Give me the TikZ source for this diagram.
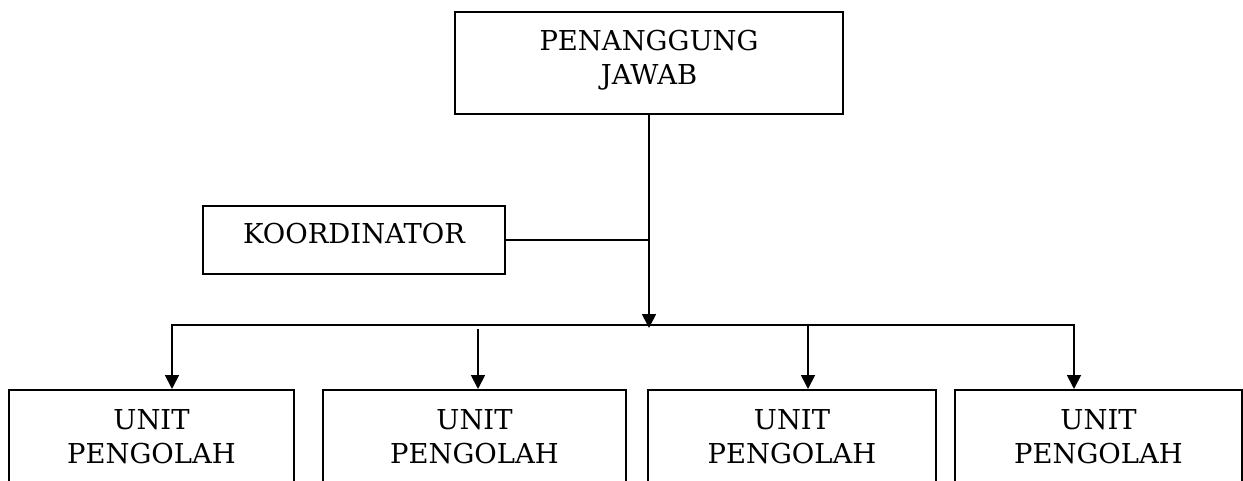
\documentclass[tikz,border=0pt]{standalone}
\usepackage{fontspec}
\setmainfont{DejaVu Serif}
\usetikzlibrary{arrows.meta}
\begin{document}
\begin{tikzpicture}[x=1pt,y=-1pt,
  box/.style={draw, line width=1.8pt, align=center, anchor=north, inner sep=0pt,
    font=\fontsize{27.4pt}{34pt}\selectfont},
  conn/.style={line width=1.8pt},
  arr/.style={conn, -{Triangle[width=14pt,length=14pt]}}]
\useasboundingbox (0,0) rectangle (1243,481);
\clip (0,0) rectangle (1243,481);
\node[box, minimum width=388pt, text height=73pt, text depth=29pt] (pj) at (649,11) {PENANGGUNG\\JAWAB};
\node[box, minimum width=302pt, text height=38pt, text depth=30pt] (ko) at (354,205) {KOORDINATOR};
\node[box, minimum width=285pt, text height=74pt, text depth=120pt] (u1) at (151.5,389) {UNIT\\PENGOLAH};
\node[box, minimum width=303pt, text height=74pt, text depth=120pt] (u2) at (474.5,389) {UNIT\\PENGOLAH};
\node[box, minimum width=288pt, text height=74pt, text depth=120pt] (u3) at (792,389) {UNIT\\PENGOLAH};
\node[box, minimum width=287pt, text height=74pt, text depth=120pt] (u4) at (1098.5,389) {UNIT\\PENGOLAH};
\coordinate (hub) at (649,328);
\coordinate (busM) at (649,325);
\coordinate (busL) at (172,325);
\coordinate (busR) at (1074,325);
\coordinate (b2) at (478,329);
\coordinate (b3) at (808,325);
\draw[arr] (pj.south) -- (hub);
\draw[conn] (ko.east) -- (ko.east -| pj.south);
\draw[arr] (busM) -- (busL) -- (busL |- u1.north);
\draw[arr] (busM) -- (busR) -- (busR |- u4.north);
\draw[arr] (b2) -- (b2 |- u2.north);
\draw[arr] (b3) -- (b3 |- u3.north);
\end{tikzpicture}
\end{document}
